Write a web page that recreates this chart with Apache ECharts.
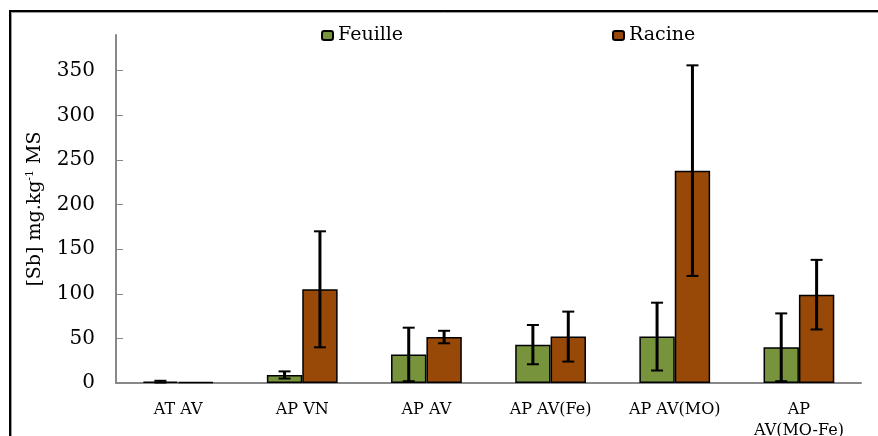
<!DOCTYPE html>
<html lang="fr">
<head>
    <meta charset="UTF-8">
    <title>Sb</title>
    <style>
        html, body { margin: 0; padding: 0; background: #fff; }
        #main { width: 878px; height: 436px; }
    </style>
</head>
<body>
    <div id="main"></div>
    <script src="https://cdn.jsdelivr.net/npm/echarts@6/dist/echarts.min.js"></script>
    <script>
        // données
        var categories = ['AT AV', 'AP VN', 'AP AV', 'AP AV(Fe)', 'AP AV(MO)', 'AP\nAV(MO-Fe)'];
        var feuille = [1.5, 9, 32, 43, 52, 40];
        var feuilleErr = [1, 4, 30, 22, 38, 38];
        var racine = [1, 105, 51.5, 52, 238, 99];
        var racineErr = [0, 65, 7, 28, 118, 39];
        var yTicks = [0, 50, 100, 150, 200, 250, 300, 350];

        var gapPct = 43; // barCategoryGap en %
        var serif = 'DejaVu Serif';

        var chart = echarts.init(document.getElementById('main'));

        // barre d'erreur : trait vertical + deux chapeaux
        function errorSeries(name, vals, errs, side) {
            var data = vals.map(function (v, i) { return [i, v, errs[i]]; });
            return {
                type: 'custom',
                name: name + '-err',
                data: data,
                z: 10,
                renderItem: function (params, api) {
                    var i = api.value(0), v = api.value(1), e = api.value(2);
                    if (!e) return;
                    var band = api.size([1, 0])[0];
                    var bw = band * (1 - gapPct / 100) / 2;
                    var c = api.coord([i, v]);
                    var x = c[0] + side * bw / 2;
                    var yt = api.coord([i, v + e])[1];
                    var yb = api.coord([i, Math.max(v - e, 0)])[1];
                    var cap = 6;
                    var st = { stroke: '#000', lineWidth: 2 };
                    return {
                        type: 'group',
                        children: [
                            { type: 'line', shape: { x1: x, y1: yt, x2: x, y2: yb }, style: { stroke: '#000', lineWidth: 3 } },
                            { type: 'line', shape: { x1: x - cap, y1: yt, x2: x + cap, y2: yt }, style: st },
                            { type: 'line', shape: { x1: x - cap, y1: yb, x2: x + cap, y2: yb }, style: st }
                        ]
                    };
                }
            };
        }

        var option = {
            animation: false,
            backgroundColor: '#fff',
            grid: { left: 116, right: 17, top: 35, bottom: 53, outerBoundsMode: 'none' },
            legend: [
                {
                    data: ['Feuille'], left: 316, top: 21,
                    itemWidth: 11, itemHeight: 9, itemGap: 6,
                    textStyle: { fontFamily: serif, fontSize: 19, color: '#000' }
                },
                {
                    data: ['Racine'], left: 607, top: 21,
                    itemWidth: 11, itemHeight: 9, itemGap: 6,
                    textStyle: { fontFamily: serif, fontSize: 19, color: '#000' }
                }
            ],
            xAxis: {
                type: 'category',
                data: categories,
                axisLine: { lineStyle: { color: '#888', width: 2 } },
                axisTick: { inside: true, length: 5, lineStyle: { color: '#888', width: 2 } },
                axisLabel: {
                    margin: 16, fontFamily: serif, fontSize: 16, color: '#000',
                    lineHeight: 21, interval: 0
                }
            },
            yAxis: {
                type: 'value',
                min: 0, max: 390, interval: 50,
                name: '{t|[Sb] mg.kg}{s|-1}{t| MS}',
                nameLocation: 'middle',
                nameGap: 70,
                nameTextStyle: {
                    rich: {
                        t: { fontFamily: serif, fontSize: 19, color: '#000' },
                        s: { fontFamily: serif, fontSize: 11, color: '#000', verticalAlign: 'top', padding: [0, 0, 10, 0] }
                    }
                },
                splitLine: { show: false },
                axisLine: { show: true, lineStyle: { color: '#888', width: 2 } },
                axisTick: { show: true, inside: true, length: 7, customValues: yTicks, lineStyle: { color: '#888', width: 1 } },
                axisLabel: {
                    customValues: yTicks, margin: 21,
                    fontFamily: serif, fontSize: 20, color: '#000'
                }
            },
            series: [
                {
                    name: 'Feuille', type: 'bar', data: feuille,
                    barGap: '0%', barCategoryGap: gapPct + '%',
                    itemStyle: { color: '#77933C', borderColor: '#000', borderWidth: 1.5 }
                },
                {
                    name: 'Racine', type: 'bar', data: racine,
                    itemStyle: { color: '#984807', borderColor: '#000', borderWidth: 1.5 }
                },
                errorSeries('Feuille', feuille, feuilleErr, -1),
                errorSeries('Racine', racine, racineErr, 1)
            ],
            graphic: [
                // cadre autour du graphique
                { type: 'line', shape: { x1: 9, y1: 11, x2: 878, y2: 11 }, style: { stroke: '#000', lineWidth: 2 } },
                { type: 'line', shape: { x1: 11, y1: 12.5, x2: 878, y2: 12.5 }, style: { stroke: '#999', lineWidth: 1 } },
                { type: 'line', shape: { x1: 10, y1: 10, x2: 10, y2: 436 }, style: { stroke: '#000', lineWidth: 2 } },
                { type: 'line', shape: { x1: 11.5, y1: 12, x2: 11.5, y2: 436 }, style: { stroke: '#999', lineWidth: 1 } }
            ]
        };
        chart.setOption(option);
    </script>
</body>
</html>
